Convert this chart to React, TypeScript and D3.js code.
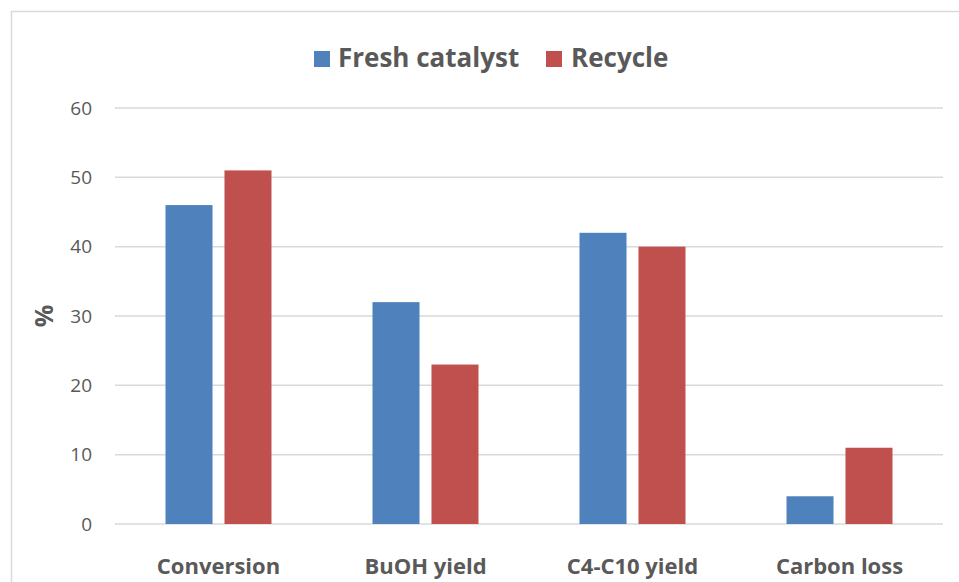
import * as d3 from "d3";

const categories = ["Conversion", "BuOH yield", "C4-C10 yield", "Carbon loss"];
const seriesNames = ["Fresh catalyst", "Recycle"];
const freshValues = [46, 32, 42, 4];
const recycleValues = [51, 23, 40, 11];
const yTicks = [0, 10, 20, 30, 40, 50, 60];
const colors = ["#4f81bd", "#c0504d"];

const W = 959;
const H = 582;
const margin = { top: 108, right: 16, bottom: 58, left: 115 };
const font = "'Open Sans', 'Liberation Sans', sans-serif";

export default function App() {
  const innerW = W - margin.left - margin.right;
  const innerH = H - margin.top - margin.bottom;

  const x0 = d3.scaleBand().domain(categories).range([0, innerW]);
  // two bars with a small gap, centred in each category slot
  const x1 = d3
    .scaleBand()
    .domain(seriesNames)
    .range([x0.bandwidth() * 0.244, x0.bandwidth() * 0.756])
    .paddingInner(0.203);
  const y = d3.scaleLinear().domain([0, 60]).range([innerH, 0]);

  const series = [freshValues, recycleValues];

  return (
    <div style={{ position: "fixed", left: 0, top: 0 }}>
      <svg width={W} height={H} style={{ display: "block", background: "#fff" }}>
        {/* outer chart frame */}
        <rect x={11.5} y={11.5} width={W + 10} height={H + 10} fill="none" stroke="#d9d9d9" strokeWidth={1.5} />

        {/* legend */}
        <g fontFamily={font} fontWeight="bold" fontSize={26} fill="#595959">
          <rect x={314} y={51} width={16} height={16} fill={colors[0]} />
          <text x={338} y={67}>{seriesNames[0]}</text>
          <rect x={546} y={51} width={16} height={16} fill={colors[1]} />
          <text x={571} y={67}>{seriesNames[1]}</text>
        </g>

        <g transform={`translate(${margin.left},${margin.top})`}>
          {yTicks.map((t) => (
            <g key={t}>
              <line x1={0} x2={innerW} y1={y(t)} y2={y(t)} stroke="#d9d9d9" strokeWidth={1.5} />
              <text
                x={-23}
                y={y(t)}
                dy="0.35em"
                textAnchor="end"
                fontFamily={font}
                fontSize={19}
                fill="#595959"
              >
                {t}
              </text>
            </g>
          ))}

          {categories.map((c, i) => (
            <g key={c} transform={`translate(${x0(c)},0)`}>
              {seriesNames.map((s, j) => (
                <rect
                  key={s}
                  x={x1(s)}
                  y={y(series[j][i])}
                  width={x1.bandwidth()}
                  height={innerH - y(series[j][i])}
                  fill={colors[j]}
                />
              ))}
              <text
                x={x0.bandwidth() / 2}
                y={innerH + 50}
                textAnchor="middle"
                fontFamily={font}
                fontWeight="bold"
                fontSize={22}
                fill="#595959"
              >
                {c}
              </text>
            </g>
          ))}
        </g>

        <text
          transform={`translate(53,${margin.top + innerH / 2}) rotate(-90)`}
          textAnchor="middle"
          fontFamily={font}
          fontWeight="bold"
          fontSize={25}
          fill="#595959"
        >
          %
        </text>
      </svg>
    </div>
  );
}
